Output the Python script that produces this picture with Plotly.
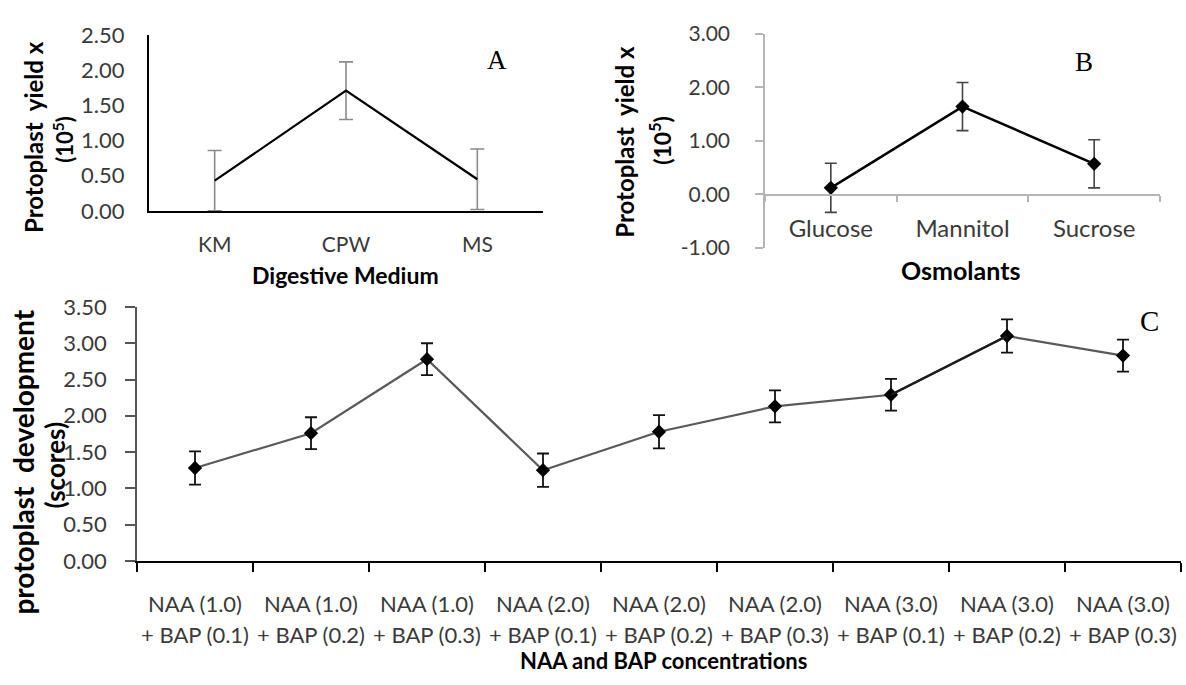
import plotly.graph_objects as go

W, H = 1186, 685

# ---------------- data ----------------
a_cats = ["KM", "CPW", "MS"]
a_vals = [0.43, 1.71, 0.45]
a_err = [0.43, 0.41, 0.43]
a_ytickvals = [0, 0.5, 1.0, 1.5, 2.0, 2.5]
a_yticktext = ["0.00", "0.50", "1.00", "1.50", "2.00", "2.50"]

b_cats = ["Glucose", "Mannitol", "Sucrose"]
b_vals = [0.12, 1.64, 0.57]
b_err = [0.46, 0.45, 0.45]
b_ytickvals = [-1, 0, 1, 2, 3]
b_yticktext = ["-1.00", "0.00", "1.00", "2.00", "3.00"]

c_naa = ["NAA (1.0)", "NAA (1.0)", "NAA (1.0)",
         "NAA (2.0)", "NAA (2.0)", "NAA (2.0)",
         "NAA (3.0)", "NAA (3.0)", "NAA (3.0)"]
c_bap = ["+ BAP (0.1)", "+ BAP (0.2)", "+ BAP (0.3)",
         "+ BAP (0.1)", "+ BAP (0.2)", "+ BAP (0.3)",
         "+ BAP (0.1)", "+ BAP (0.2)", "+ BAP (0.3)"]
c_cats = [n + " " + b for n, b in zip(c_naa, c_bap)]
c_vals = [1.28, 1.76, 2.78, 1.25, 1.78, 2.13, 2.29, 3.10, 2.83]
c_err = [0.23, 0.22, 0.22, 0.23, 0.23, 0.22, 0.22, 0.23, 0.22]
c_ytickvals = [0, 0.5, 1.0, 1.5, 2.0, 2.5, 3.0, 3.5]
c_yticktext = ["0.00", "0.50", "1.00", "1.50", "2.00", "2.50", "3.00", "3.50"]


def px(x):
    return x / W


def py(y):
    return 1 - y / H


FONT = "Lato, Open Sans, sans-serif"
TICKC = "#3a3a3a"

fig = go.Figure()

# Panel A
fig.add_trace(go.Scatter(
    x=a_cats, y=a_vals, mode="lines", xaxis="x", yaxis="y",
    line=dict(color="black", width=2.2),
    error_y=dict(type="data", array=a_err, color="#8a8a8a", thickness=1.6, width=7),
    showlegend=False, cliponaxis=False,
))
# Panel B
fig.add_trace(go.Scatter(
    x=b_cats, y=b_vals, mode="lines+markers", xaxis="x2", yaxis="y2",
    line=dict(color="black", width=2.5),
    marker=dict(symbol="diamond", size=11, color="black"),
    error_y=dict(type="data", array=b_err, color="#444444", thickness=1.6, width=6),
    showlegend=False, cliponaxis=False,
))
# Panel C
fig.add_trace(go.Scatter(
    x=c_cats, y=c_vals, mode="lines+markers", xaxis="x3", yaxis="y3",
    line=dict(color="#5a5a5a", width=2.2),
    marker=dict(symbol="diamond", size=11, color="black"),
    error_y=dict(type="data", array=c_err, color="#111111", thickness=1.8, width=6),
    showlegend=False, cliponaxis=False,
))
# darker segment between the 7th and 8th treatments
fig.add_trace(go.Scatter(
    x=c_cats[6:8], y=c_vals[6:8], mode="lines", xaxis="x3", yaxis="y3",
    line=dict(color="#1a1a1a", width=2.4), showlegend=False, cliponaxis=False,
))
# invisible carrier so the second label row (BAP) axis is drawn
fig.add_trace(go.Scatter(
    x=list(range(len(c_bap))), y=c_vals, mode="markers", xaxis="x4", yaxis="y3",
    marker=dict(opacity=0, size=1), hoverinfo="skip", showlegend=False,
))

C_DOM = [px(137), px(1181)]
C_AX_Y = 569.3

fig.update_layout(
    width=W, height=H,
    margin=dict(l=0, r=0, t=0, b=0),
    paper_bgcolor="white", plot_bgcolor="rgba(0,0,0,0)",
    font=dict(family=FONT, color=TICKC),
    xaxis=dict(
        domain=[px(149), px(543)], anchor="y", type="category", range=[-0.5, 2.5],
        showline=True, linecolor="black", linewidth=2, ticks="", showgrid=False,
        tickfont=dict(size=21, color=TICKC), ticklabelstandoff=14, tickangle=0,
    ),
    yaxis=dict(
        domain=[py(205), py(22)], anchor="x", range=[0, 2.5],
        tickvals=a_ytickvals, ticktext=a_yticktext,
        showline=True, linecolor="black", linewidth=2, ticks="", showgrid=False, zeroline=False,
        tickfont=dict(size=22, color=TICKC), ticklabelstandoff=18,
    ),
    xaxis2=dict(
        domain=[px(765), px(1160)], anchor="free", position=py(188.3), type="category",
        range=[-0.5, 2.5], tickson="boundaries", ticks="outside", ticklen=6,
        tickcolor="#b5b5b5", tickwidth=1.5,
        showline=True, linecolor="#b5b5b5", linewidth=1.5, showgrid=False,
        tickfont=dict(size=24, color=TICKC), ticklabelstandoff=13, tickangle=0,
    ),
    yaxis2=dict(
        domain=[py(243.3), py(20.7)], anchor="x2", range=[-1, 3],
        tickvals=b_ytickvals, ticktext=b_yticktext,
        ticks="outside", ticklen=8, tickcolor="#b5b5b5", tickwidth=1.5,
        showline=True, linecolor="#b5b5b5", linewidth=1.5, showgrid=False, zeroline=False,
        tickfont=dict(size=21, color=TICKC), ticklabelstandoff=21,
    ),
    xaxis3=dict(
        domain=C_DOM, anchor="y3", type="category", range=[-0.5, 8.5],
        tickmode="array", tickvals=c_cats, ticktext=c_naa,
        tickson="boundaries", ticks="outside", ticklen=9, tickcolor="black", tickwidth=1.5,
        showline=True, linecolor="black", linewidth=2, showgrid=False,
        tickfont=dict(size=22, color=TICKC), ticklabelstandoff=23, tickangle=0,
    ),
    # second line of the treatment labels
    xaxis4=dict(
        domain=C_DOM, anchor="free", position=py(C_AX_Y), overlaying="x3",
        range=[-0.5, 8.5], tickmode="array",
        tickvals=list(range(len(c_bap))), ticktext=c_bap,
        ticks="", showline=False, showgrid=False, zeroline=False,
        tickfont=dict(size=22, color=TICKC), ticklabelstandoff=59, tickangle=0,
        ticklabeloverflow="allow",
    ),
    yaxis3=dict(
        domain=[py(C_AX_Y), py(305)], anchor="x3", range=[0, 3.5],
        tickvals=c_ytickvals, ticktext=c_yticktext,
        ticks="outside", ticklen=10, tickcolor="#555555", tickwidth=1.5,
        showline=True, linecolor="#555555", linewidth=1.5, showgrid=False, zeroline=False,
        tickfont=dict(size=22, color=TICKC), ticklabelstandoff=14,
    ),
)

ann = []
# y titles (one annotation per line)
ann.append(dict(text="<b>Protoplast  yield x</b>", x=px(34), y=py(128), textangle=-90,
                font=dict(size=24, color="black", family=FONT)))
ann.append(dict(text="<b>(10<sup>5</sup>)</b>", x=px(64), y=py(131), textangle=-90,
                font=dict(size=22, color="black", family=FONT)))
ann.append(dict(text="<b>Protoplast  yield x</b>", x=px(625), y=py(133), textangle=-90,
                font=dict(size=24, color="black", family=FONT)))
ann.append(dict(text="<b>(10<sup>5</sup>)</b>", x=px(661), y=py(132), textangle=-90,
                font=dict(size=23, color="black", family=FONT)))
ann.append(dict(text="<b>protoplast  development</b>", x=px(23), y=py(467), textangle=-90,
                font=dict(size=28, color="black", family=FONT)))
ann.append(dict(text="<b>(scores)</b>", x=px(55), y=py(470), textangle=-90,
                font=dict(size=26, color="black", family=FONT)))
# x titles
ann.append(dict(text="<b>Digestive Medium</b>", x=px(345), y=py(272),
                font=dict(size=23, color="black", family=FONT)))
ann.append(dict(text="<b>Osmolants</b>", x=px(960), y=py(267),
                font=dict(size=25, color="black", family=FONT)))
ann.append(dict(text="<b>NAA and BAP concentrations</b>", x=px(664), y=py(673),
                font=dict(size=22, color="black", family=FONT)))
# panel letters
SER = "Liberation Serif, Times New Roman, serif"
ann.append(dict(text="A", x=px(497), y=py(48), font=dict(size=27, color="black", family=SER)))
ann.append(dict(text="B", x=px(1084), y=py(50), font=dict(size=27, color="black", family=SER)))
ann.append(dict(text="C", x=px(1149), y=py(320), font=dict(size=29, color="black", family=SER)))

for a in ann:
    a.update(xref="paper", yref="paper", showarrow=False, xanchor="center", yanchor="middle")
fig.update_layout(annotations=ann)

# remove the default page margin so the figure sits at the window's top-left corner
fig.write_html(
    "out.html",
    config={"displayModeBar": False},
    post_script="document.body.style.margin='0';document.body.style.overflow='hidden';",
)
